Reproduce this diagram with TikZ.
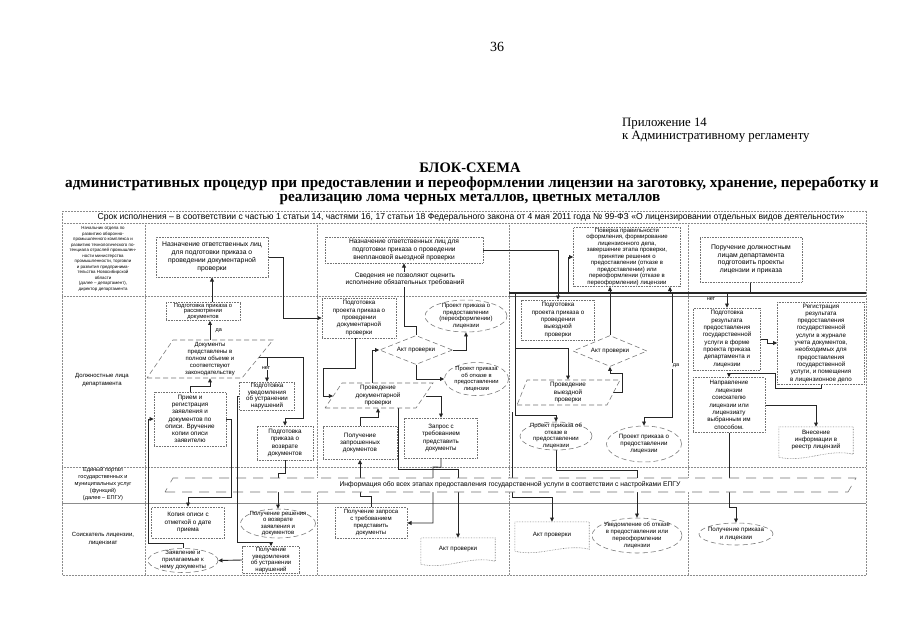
\documentclass[tikz,border=0pt]{standalone}
\usepackage{fontspec}
\setmainfont{Liberation Serif}
\newfontfamily\sansf{Liberation Sans}
\usetikzlibrary{arrows.meta,shapes.geometric,backgrounds}
\newcommand{\myfs}[2]{\fontsize{#1}{#2}\selectfont}
\begin{document}
\begin{tikzpicture}[x=1pt,y=-1pt,
 outl/.style={draw=black!55, densely dotted, line width=0.6pt},
 pshape/.style={draw=black!55, line width=0.55pt, dash pattern=on 5pt off 3pt},
 box/.style={outl, rectangle, align=center, inner sep=0.5pt, font=\sansf\myfs{6.2}{7}},
 ebox/.style={pshape, ellipse, inner sep=0pt},
 dbox/.style={pshape, diamond, inner sep=0pt},
 txt/.style={align=center, inner sep=0pt, font=\sansf\myfs{6.2}{7}},
 conn/.style={draw=black!85, line width=0.9pt},
 arr/.style={conn, -{Triangle[length=4.2pt,width=3.8pt]}},
 grid/.style={draw=black!45, densely dotted, line width=0.5pt},
 yn/.style={fill=white, inner sep=0.5pt, font=\sansf\myfs{5.5}{6}},
]
\useasboundingbox (0,0) rectangle (905,640);

% ---------- page texts ----------
\node[font=\myfs{14}{16}] (pg) at (497,47) {36};
\node[anchor=base west, inner sep=0pt, font=\myfs{12.8}{14}] (pr1) at (622,126) {Приложение 14};
\node[anchor=base west, inner sep=0pt, font=\myfs{12.8}{14}] (pr2) at (622,139) {к Административному регламенту};
\node[font=\bfseries\myfs{14.5}{16}] (t1) at (470,168) {БЛОК-СХЕМА};
\node[font=\bfseries\myfs{15.2}{16}] (t2) at (472,184) {административных процедур при предоставлении и переоформлении лицензии на заготовку, хранение, переработку и};
\node[font=\bfseries\myfs{15.2}{16}] (t3) at (470,200) {реализацию лома черных металлов, цветных металлов};

% ---------- lane labels ----------
\node[txt, font=\sansf\myfs{8.6}{10}] (hdr) at (471,217) {Срок исполнения – в соответствии с частью 1 статьи 14, частями 16, 17 статьи 18 Федерального закона от 4 мая 2011 года № 99-ФЗ «О лицензировании отдельных видов деятельности»};
\node[txt, font=\sansf\myfs{4.4}{5.5}] (lab1) at (103,259) {Начальник отдела по\\развитию оборонно-\\промышленного комплекса и\\развитию технологического по-\\тенциала отраслей промышлен-\\ности министерства\\промышленности, торговли\\и развития предпринима-\\тельства Новосибирской\\области\\(далее – департамент),\\директор департамента};
\node[txt, font=\sansf\myfs{6}{8}] (lab2) at (102,380) {Должностные лица\\департамента};
\node[txt, font=\sansf\myfs{5.6}{6.8}] (lab3) at (103,484) {Единый портал\\государственных и\\муниципальных услуг\\(функций)\\(далее – ЕПГУ)};
\node[txt, font=\sansf\myfs{6}{8}] (lab4) at (103,539) {Соискатель лицензии,\\лицензиат};

% ---------- lane 1 ----------
\node[box, minimum width=112, minimum height=40, font=\sansf\myfs{6.8}{7.8}] (a1) at (212,257) {Назначение ответственных лиц\\для подготовки приказа о\\проведении документарной\\проверки};
\node[box, minimum width=158, minimum height=26, font=\sansf\myfs{6.6}{8}] (a2) at (404,250) {Назначение ответственных лиц для\\подготовки приказа о проведении\\внеплановой выездной проверки};
\node[txt, fill=white, inner sep=1pt, font=\sansf\myfs{6.6}{7.5}] (txt1) at (405,279.5) {Сведения не позволяют оценить\\исполнение обязательных требований};
\node[box, minimum width=107, minimum height=59, font=\sansf\myfs{6}{6.5}] (a3) at (627,257) {Поверка правильности\\оформления, формирование\\лицензионного дела,\\завершение этапа проверки,\\принятие решения о\\предоставлении (отказе в\\предоставлении) или\\переоформлении (отказе в\\переоформлении) лицензии};
\node[box, minimum width=102, minimum height=45, font=\sansf\myfs{6.8}{7.5}] (a4) at (751,259.5) {Поручение должностным\\лицам департамента\\подготовить проекты\\лицензии и приказа};

% ---------- lane 2, column 1 ----------
\node[box, minimum width=74, minimum height=17, font=\sansf\myfs{5.8}{5.8}] (b1) at (203,311.5) {Подготовка приказа о\\рассмотрении\\документов};
\node[txt, minimum width=100, minimum height=38, font=\sansf\myfs{6}{7.2}] (d1) at (210,359) {Документы\\представлены в\\полном объеме и\\соответствуют\\законодательству};
\coordinate (d1r) at (259,357);
\node[box, minimum width=55, minimum height=28, font=\sansf\myfs{6.2}{6.8}] (b2) at (267,396) {Подготовка\\уведомления\\об устранении\\нарушений};
\node[box, minimum width=72, minimum height=54, font=\sansf\myfs{6.3}{7.2}] (b3) at (190,419) {Прием и\\регистрация\\заявления и\\документов по\\описи. Вручение\\копии описи\\заявителю};
\node[box, minimum width=56, minimum height=34, font=\sansf\myfs{6.3}{7.5}] (b4) at (285,443) {Подготовка\\приказа о\\возврате\\документов};

% ---------- lane 2, column 2 ----------
\node[box, minimum width=74, minimum height=40, font=\sansf\myfs{6.2}{7.4}] (e1) at (359,318) {Подготовка\\проекта приказа о\\проведении\\документарной\\проверки};
\node[dbox, minimum width=73, minimum height=29] (dia1) at (416,350) {};
\node[txt] (dia1t) at (dia1) {Акт проверки};
\node[ebox, minimum width=82, minimum height=32] (f1) at (466,316) {};
\node[txt, font=\sansf\myfs{6}{6.8}] (f1t) at (f1) {Проект приказа о\\предоставлении\\(переоформлении)\\лицензии};
\node[ebox, minimum width=64, minimum height=33] (f2) at (476.5,379) {};
\node[txt, font=\sansf\myfs{5.8}{6.6}] (f2t) at (f2) {Проект приказа\\об отказе в\\предоставлении\\лицензии};
\node[txt, minimum width=90, minimum height=25, font=\sansf\myfs{6.3}{7.4}] (e2) at (378,395.5) {Проведение\\документарной\\проверки};
\coordinate (e2l) at (333,396);
\coordinate (e2t) at (372,383);
\coordinate (e2r) at (426,396);
\node[box, minimum width=73, minimum height=40, font=\sansf\myfs{6.2}{7.4}] (e3) at (441,438) {Запрос с\\требованием\\представить\\документы};
\node[box, minimum width=74, minimum height=33, font=\sansf\myfs{6.3}{7.4}] (e4) at (360,443) {Получение\\запрошенных\\документов};

% ---------- lane 2, column 3 ----------
\node[box, minimum width=73, minimum height=40, font=\sansf\myfs{6.2}{7.4}] (g1) at (558,320) {Подготовка\\проекта приказа о\\проведении\\выездной\\проверки};
\node[dbox, minimum width=74, minimum height=31] (dia2) at (610,351) {};
\node[txt] (dia2t) at (dia2) {Акт проверки};
\node[txt, minimum width=90, minimum height=25, font=\sansf\myfs{6.3}{7.4}] (g3) at (568,392.5) {Проведение\\выездной\\проверки};
\coordinate (g3r) at (613,392);
\node[ebox, minimum width=72, minimum height=28] (g4) at (556,436) {};
\node[txt, font=\sansf\myfs{6}{6.6}] (g4t) at (g4) {Проект приказа об\\отказе в\\предоставлении\\лицензии};
\node[ebox, minimum width=75, minimum height=36] (g5) at (644,444) {};
\node[txt, font=\sansf\myfs{6.2}{7.2}] (g5t) at (g5) {Проект приказа о\\предоставлении\\лицензии};

% ---------- lane 2, column 4 ----------
\node[box, minimum width=67, minimum height=62, font=\sansf\myfs{6.2}{7.3}] (g6) at (727,339) {Подготовка\\результата\\предоставления\\государственной\\услуги в форме\\проекта приказа\\департамента и\\лицензии};
\node[box, minimum width=87, minimum height=82, font=\sansf\myfs{6.2}{7.3}] (g7) at (821,343) {Регистрация\\результата\\предоставления\\государственной\\услуги в журнале\\учета документов,\\необходимых для\\предоставления\\государственной\\услуги, и помещения\\в лицензионное дело};
\node[box, minimum width=72, minimum height=55, font=\sansf\myfs{6.2}{7.4}] (g8) at (729,405) {Направление\\лицензии\\соискателю\\лицензии или\\лицензиату\\выбранным им\\способом.};
\node[txt, minimum width=74, minimum height=33, font=\sansf\myfs{6.2}{7.4}] (g9) at (816,443.5) {};
\node[txt, font=\sansf\myfs{6.2}{7.4}] (g9t) at (816,440) {Внесение\\информации в\\реестр лицензий};

% ---------- lane 4 ----------
\node[box, minimum width=73, minimum height=31, font=\sansf\myfs{6.3}{7.4}] (c1) at (188,522.5) {Копия описи с\\отметкой о дате\\приема};
\node[ebox, minimum width=75, minimum height=29] (c2) at (278,523.5) {};
\node[txt, font=\sansf\myfs{6}{6.6}] (c2t) at (c2) {Получение решения\\о возврате\\заявления и\\документов};
\node[box, minimum width=57, minimum height=27, font=\sansf\myfs{6}{6.4}] (c3) at (271,560) {Получение\\уведомления\\об устранении\\нарушений};
\node[ebox, minimum width=70, minimum height=24] (c4) at (183,560.5) {};
\node[txt, font=\sansf\myfs{6}{7}] (c4t) at (c4) {Заявление и\\прилагаемые к\\нему документы};
\node[box, minimum width=72, minimum height=31, font=\sansf\myfs{6}{7}] (c5) at (371,523) {Получение запроса\\с требованием\\представить\\документы};
\node[txt, minimum width=74, minimum height=29] (c6) at (458,552.5) {};
\node[txt] (c6t) at (458,549) {Акт проверки};
\node[txt, minimum width=74, minimum height=32] (c7) at (552,538) {};
\node[txt] (c7t) at (552,535) {Акт проверки};
\node[ebox, minimum width=90, minimum height=35] (c8) at (637,535.5) {};
\node[txt, font=\sansf\myfs{6}{7}] (c8t) at (c8) {Уведомление об отказе\\в предоставлении или\\переоформлении\\лицензии};
\node[ebox, minimum width=74, minimum height=22] (c9) at (736,534) {};
\node[txt, font=\sansf\myfs{6.2}{7.4}] (c9t) at (c9) {Получение приказа\\и лицензии};

% ---------- shapes drawn as paths ----------
\draw[pshape] (147,378) -- (242,378) -- (273,340) -- (173,340) -- cycle;
\draw[pshape] (325,408) -- (416,408) -- (433,383) -- (342,383) -- cycle;
\draw[pshape] (517,405) -- (607,405) -- (620,380) -- (527,380) -- cycle;
\draw[outl] ([yshift=3]g9.south west) -- (g9.north west) -- (g9.north east) -- ([yshift=6]g9.south east) .. controls +(-25,-6) and +(25,6) .. ([yshift=3]g9.south west);
\draw[outl] ([yshift=3]c6.south west) -- (c6.north west) -- (c6.north east) -- ([yshift=6]c6.south east) .. controls +(-25,-6) and +(25,6) .. ([yshift=3]c6.south west);
\draw[outl] ([yshift=3]c7.south west) -- (c7.north west) -- (c7.north east) -- ([yshift=5]c7.south east) .. controls +(-25,-6) and +(25,6) .. ([yshift=3]c7.south west);

% ---------- yes / no labels ----------
\node[yn, anchor=west] (da1) at (215,331) {да};
\node[yn] (net1) at (266,368) {нет};
\node[yn] (net2) at (711,299) {нет};
\node[yn] (da2) at (676,366) {да};

% ---------- background: grid and connectors ----------
\begin{pgfonlayer}{background}
\fill[white] (0,0) rectangle (905,640);
\draw[grid] (62,211) rectangle (866,575);
\draw[grid] (62,223) -- (866,223);
\draw[grid] (62,296) -- (866,296);
\draw[grid] (62,467) -- (866,467);
\draw[draw=black!45, line width=0.6pt] (62,503) -- (866,503);
\draw[grid] (145,223) -- (145,575);
\draw[grid] (317,223) -- (317,575);
\draw[grid] (509,223) -- (509,575);
\draw[grid] (688,223) -- (688,575);

% bus
\coordinate (busL) at (509,293);
\coordinate (busR) at (866,293);
\draw[conn, line width=1.2pt] (busL) -- (busR);
\draw[conn, line width=0.7pt, draw=black!60] (509,296.5) -- (866,296.5);

\draw[arr] (a1.east) -- (283,257) -- (283,318) -- (e1.west);
\draw[arr] ([xshift=9]b1.north) -- ([xshift=9]b1.north |- a1.south);
\draw[arr] (d1.north) -- (d1.north |- b1.south);
\draw[arr] (b3.north) -- ++(0,-5) -| (d1.south);
\draw[arr] (d1r) -- (303,357) -- (303,418) -| (b4.north);
\draw[arr] (b2.north |- d1r) -- (b2.north);
\draw[arr] (b4.south) -- (285,473) -- (278,473) -- (c2.north);
\draw[arr] (c3.west) -- (c4.east);
\draw[arr] (c4.north) -- ++(0,-5) -| (148,419) -- (b3.west);

\draw[arr] ([xshift=-4]e1.south) -- ++(0,30) -| (323,396) -- (e2l);
\draw[arr] (e2t) -- (e2t |- dia1.west) -- (dia1.west);
\draw[arr] (dia1.east) -| (f1.south);
\draw[arr] (dia1.south) |- (f2.west);
\draw[arr] (dia1.north) -- ++(0,-9) -| (a2.south);
\draw[arr] (e2r) -| (e3.north);
\draw[arr] (e4.north) -- ++(0,-8.5) -| (e2.south);
\draw[arr] (c5.north) -- ++(0,-11) -| (e4.south);
\draw[arr] (e3.south) -- ++(0,9) -- (433,467) |- (c5.east);
\draw[arr] ([xshift=20]e2.south) -- (398,469) -| (c6.north);

\draw[arr] (a2.east) -| (g1.north);
\draw[arr] (568,293) |- (a3.west);
\draw[arr] (dia2.north) -- (dia2.north |- a3.south);
\draw[arr] (670,293) -- ([xshift=43]a3.south);
\draw[conn] ([xshift=-1]a4.south) -- (750,293);
\draw[arr] (727,293) -- (g6.north);
\draw[arr] (515,293) -- (515,415) -| (g4.north);
\draw[arr] (512,412) -- (512,497) -| (c7.north);
\draw[arr] (515,348) -| (g3.north);
\draw[arr] (g3r) -- (622,392) -- (622,373) -| (dia2.south);
\draw[arr] (672,293) -- (672,417) -| (g5.north);
\draw[arr] (g4.south) -- (556,470) -| (c8.north);
\draw[arr] (g6.east) -- ++(7,0) |- (g7.west);
\draw[arr] (g7.south) -- ++(0,4) -| (775,373) -| (g8.north);
\draw[arr] (g8.east) -| (g9.north);
\draw[arr] (g8.south) -- (729,507) -| (c9.north);
\end{pgfonlayer}

% ---------- EPGU band (covers lines) ----------
\draw[pshape, fill=white, dash pattern=on 10pt off 7pt] (165,492) -- (848,492) -- (856,478) -- (173,478) -- cycle;
\node[txt, font=\sansf\myfs{6.8}{8}] (epgu) at (510,485) {Информация обо всех этапах предоставления государственной услуги в соответствии с настройками ЕПГУ};

% lines that stay visible across the EPGU band
\draw[arr] (b2.west) -- (237,396) -- (237,542) -| (c3.north);
\draw[arr] (b3.east) -- (231,419) -- (231,497) -| (c1.north);
\end{tikzpicture}
\end{document}
